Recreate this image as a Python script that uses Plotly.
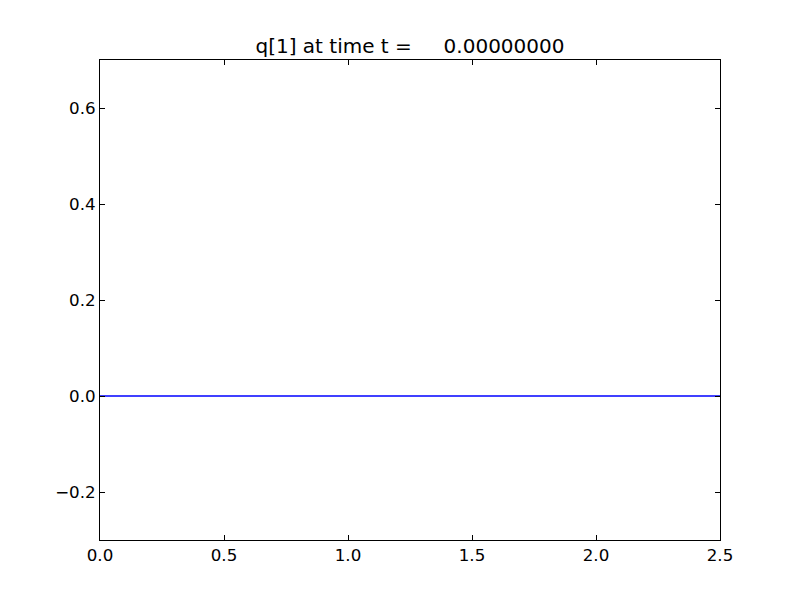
import plotly.graph_objects as go

x_vals = [0.0, 0.5, 1.0, 1.5, 2.0, 2.5]
q_vals = [0.0, 0.0, 0.0, 0.0, 0.0, 0.0]
title_text = "q[1] at time t =" + "\u00a0" * 5 + "0.00000000"

fig = go.Figure()
fig.add_trace(go.Scatter(x=x_vals, y=q_vals, mode="lines",
                         line=dict(color="#0000ff", width=1.3), showlegend=False))

axis_common = dict(showline=True, linecolor="black", linewidth=1, mirror="ticks",
                   ticks="inside", ticklen=5, tickcolor="black", showgrid=False,
                   zeroline=False, tickfont=dict(family="DejaVu Sans", size=16.7, color="black"))
fig.update_xaxes(range=[0, 2.5], tickvals=[0, 0.5, 1.0, 1.5, 2.0, 2.5],
                 ticktext=["0.0", "0.5", "1.0", "1.5", "2.0", "2.5"], **axis_common)
fig.update_yaxes(range=[-0.3, 0.7], tickvals=[-0.2, 0.0, 0.2, 0.4, 0.6],
                 ticktext=["\u22120.2", "0.0", "0.2", "0.4", "0.6"], **axis_common)

fig.update_layout(
    width=800, height=600,
    margin=dict(l=92, r=88, t=52, b=68),
    paper_bgcolor="white", plot_bgcolor="white",
    title=dict(text=title_text, xref="paper", x=0.5, xanchor="center",
               yref="container", y=1 - 38 / 600, yanchor="middle",
               font=dict(family="DejaVu Sans", size=20, color="black")),
)
fig.write_html("out.html")
